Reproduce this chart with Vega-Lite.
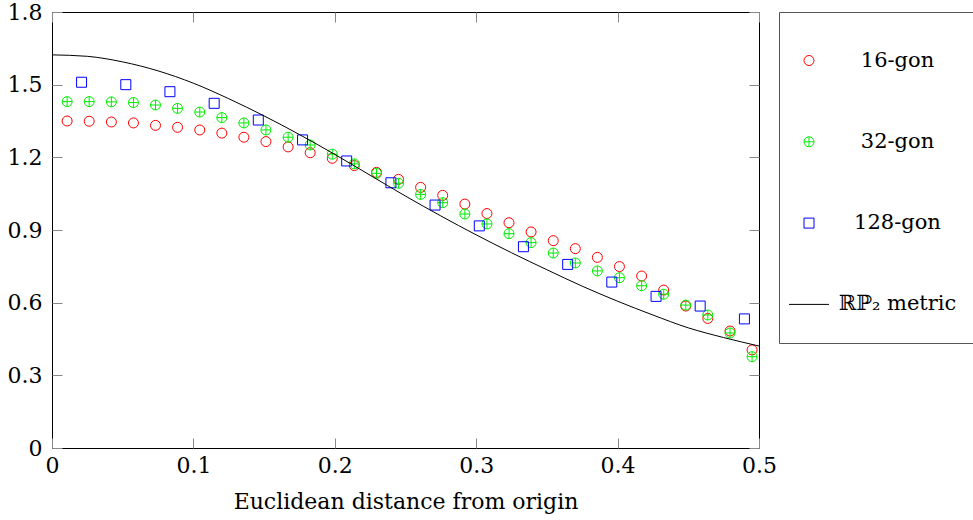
{
  "$schema": "https://vega.github.io/schema/vega-lite/v6.json",
  "width": 707,
  "height": 436,
  "autosize": "none",
  "padding": {"left": 52, "top": 12, "right": 214, "bottom": 72},
  "background": "white",
  "config": {"view": {"stroke": "black", "strokeWidth": 1}, "font": "DejaVu Serif"},
  "datasets": {
    "pts": [
      {"series": "16-gon", "x": 0.0107, "y": 1.350},
      {"series": "16-gon", "x": 0.0263, "y": 1.349},
      {"series": "16-gon", "x": 0.0420, "y": 1.346},
      {"series": "16-gon", "x": 0.0576, "y": 1.342},
      {"series": "16-gon", "x": 0.0732, "y": 1.332},
      {"series": "16-gon", "x": 0.0888, "y": 1.324},
      {"series": "16-gon", "x": 0.1045, "y": 1.313},
      {"series": "16-gon", "x": 0.1201, "y": 1.300},
      {"series": "16-gon", "x": 0.1357, "y": 1.283},
      {"series": "16-gon", "x": 0.1513, "y": 1.265},
      {"series": "16-gon", "x": 0.1670, "y": 1.243},
      {"series": "16-gon", "x": 0.1826, "y": 1.219},
      {"series": "16-gon", "x": 0.1982, "y": 1.196},
      {"series": "16-gon", "x": 0.2138, "y": 1.166},
      {"series": "16-gon", "x": 0.2295, "y": 1.138},
      {"series": "16-gon", "x": 0.2451, "y": 1.109},
      {"series": "16-gon", "x": 0.2607, "y": 1.076},
      {"series": "16-gon", "x": 0.2763, "y": 1.043},
      {"series": "16-gon", "x": 0.2920, "y": 1.007},
      {"series": "16-gon", "x": 0.3076, "y": 0.968},
      {"series": "16-gon", "x": 0.3232, "y": 0.930},
      {"series": "16-gon", "x": 0.3388, "y": 0.892},
      {"series": "16-gon", "x": 0.3545, "y": 0.856},
      {"series": "16-gon", "x": 0.3701, "y": 0.823},
      {"series": "16-gon", "x": 0.3857, "y": 0.787},
      {"series": "16-gon", "x": 0.4013, "y": 0.749},
      {"series": "16-gon", "x": 0.4170, "y": 0.710},
      {"series": "16-gon", "x": 0.4326, "y": 0.652},
      {"series": "16-gon", "x": 0.4482, "y": 0.586},
      {"series": "16-gon", "x": 0.4638, "y": 0.535},
      {"series": "16-gon", "x": 0.4795, "y": 0.483},
      {"series": "16-gon", "x": 0.4951, "y": 0.405},
      {"series": "32-gon", "x": 0.0107, "y": 1.430},
      {"series": "32-gon", "x": 0.0263, "y": 1.430},
      {"series": "32-gon", "x": 0.0420, "y": 1.429},
      {"series": "32-gon", "x": 0.0576, "y": 1.426},
      {"series": "32-gon", "x": 0.0732, "y": 1.416},
      {"series": "32-gon", "x": 0.0888, "y": 1.402},
      {"series": "32-gon", "x": 0.1045, "y": 1.387},
      {"series": "32-gon", "x": 0.1201, "y": 1.364},
      {"series": "32-gon", "x": 0.1357, "y": 1.342},
      {"series": "32-gon", "x": 0.1513, "y": 1.313},
      {"series": "32-gon", "x": 0.1670, "y": 1.283},
      {"series": "32-gon", "x": 0.1826, "y": 1.251},
      {"series": "32-gon", "x": 0.1982, "y": 1.213},
      {"series": "32-gon", "x": 0.2138, "y": 1.173},
      {"series": "32-gon", "x": 0.2295, "y": 1.134},
      {"series": "32-gon", "x": 0.2451, "y": 1.093},
      {"series": "32-gon", "x": 0.2607, "y": 1.047},
      {"series": "32-gon", "x": 0.2763, "y": 1.013},
      {"series": "32-gon", "x": 0.2920, "y": 0.966},
      {"series": "32-gon", "x": 0.3076, "y": 0.925},
      {"series": "32-gon", "x": 0.3232, "y": 0.885},
      {"series": "32-gon", "x": 0.3388, "y": 0.848},
      {"series": "32-gon", "x": 0.3545, "y": 0.805},
      {"series": "32-gon", "x": 0.3701, "y": 0.764},
      {"series": "32-gon", "x": 0.3857, "y": 0.731},
      {"series": "32-gon", "x": 0.4013, "y": 0.703},
      {"series": "32-gon", "x": 0.4170, "y": 0.670},
      {"series": "32-gon", "x": 0.4326, "y": 0.635},
      {"series": "32-gon", "x": 0.4482, "y": 0.590},
      {"series": "32-gon", "x": 0.4638, "y": 0.549},
      {"series": "32-gon", "x": 0.4795, "y": 0.475},
      {"series": "32-gon", "x": 0.4951, "y": 0.377},
      {"series": "128-gon", "x": 0.0209, "y": 1.510},
      {"series": "128-gon", "x": 0.0522, "y": 1.500},
      {"series": "128-gon", "x": 0.0834, "y": 1.471},
      {"series": "128-gon", "x": 0.1147, "y": 1.423},
      {"series": "128-gon", "x": 0.1459, "y": 1.354},
      {"series": "128-gon", "x": 0.1772, "y": 1.272},
      {"series": "128-gon", "x": 0.2084, "y": 1.185},
      {"series": "128-gon", "x": 0.2397, "y": 1.095},
      {"series": "128-gon", "x": 0.2709, "y": 1.003},
      {"series": "128-gon", "x": 0.3022, "y": 0.917},
      {"series": "128-gon", "x": 0.3334, "y": 0.831},
      {"series": "128-gon", "x": 0.3647, "y": 0.758},
      {"series": "128-gon", "x": 0.3959, "y": 0.685},
      {"series": "128-gon", "x": 0.4272, "y": 0.626},
      {"series": "128-gon", "x": 0.4584, "y": 0.586},
      {"series": "128-gon", "x": 0.4897, "y": 0.533}
    ],
    "curve": [
      {"series": "ℝℙ₂ metric", "x": 0.0, "y": 1.623},
      {"series": "ℝℙ₂ metric", "x": 0.025, "y": 1.617},
      {"series": "ℝℙ₂ metric", "x": 0.05, "y": 1.594},
      {"series": "ℝℙ₂ metric", "x": 0.075, "y": 1.557},
      {"series": "ℝℙ₂ metric", "x": 0.1, "y": 1.506},
      {"series": "ℝℙ₂ metric", "x": 0.125, "y": 1.442},
      {"series": "ℝℙ₂ metric", "x": 0.15, "y": 1.371},
      {"series": "ℝℙ₂ metric", "x": 0.175, "y": 1.294},
      {"series": "ℝℙ₂ metric", "x": 0.2, "y": 1.212},
      {"series": "ℝℙ₂ metric", "x": 0.225, "y": 1.126},
      {"series": "ℝℙ₂ metric", "x": 0.25, "y": 1.040},
      {"series": "ℝℙ₂ metric", "x": 0.275, "y": 0.958},
      {"series": "ℝℙ₂ metric", "x": 0.3, "y": 0.880},
      {"series": "ℝℙ₂ metric", "x": 0.325, "y": 0.806},
      {"series": "ℝℙ₂ metric", "x": 0.35, "y": 0.736},
      {"series": "ℝℙ₂ metric", "x": 0.375, "y": 0.668},
      {"series": "ℝℙ₂ metric", "x": 0.4, "y": 0.606},
      {"series": "ℝℙ₂ metric", "x": 0.425, "y": 0.549},
      {"series": "ℝℙ₂ metric", "x": 0.45, "y": 0.496},
      {"series": "ℝℙ₂ metric", "x": 0.475, "y": 0.456},
      {"series": "ℝℙ₂ metric", "x": 0.5, "y": 0.421}
    ]
  },
  "layer": [
    {
      "data": {"name": "pts"},
      "mark": {"type": "point", "filled": false, "strokeWidth": 1, "opacity": 1, "size": 1600},
      "encoding": {
        "x": {
          "field": "x", "type": "quantitative",
          "scale": {"domain": [0, 0.5], "nice": false, "zero": false},
          "axis": {
            "orient": "bottom", "values": [0, 0.1, 0.2, 0.3, 0.4, 0.5],
            "labelExpr": "datum.value == 0 ? '0' : format(datum.value, '.1f')",
            "tickSize": -10, "tickColor": "#888", "tickWidth": 1, "domain": false, "grid": false,
            "labelPadding": 17, "labelFontSize": 22, "labelColor": "black", "labelFont": "DejaVu Serif",
            "labelFlush": false, "labelOverlap": false,
            "title": "Euclidean distance from origin", "titleFontSize": 22, "titleFontWeight": "normal",
            "titleColor": "black", "titleFont": "DejaVu Serif", "titlePadding": 15
          }
        },
        "y": {
          "field": "y", "type": "quantitative",
          "scale": {"domain": [0, 1.8], "nice": false, "zero": false},
          "axis": {
            "orient": "left", "values": [0, 0.3, 0.6, 0.9, 1.2, 1.5, 1.8],
            "labelExpr": "datum.value == 0 ? '0' : format(datum.value, '.1f')",
            "tickSize": -10, "tickColor": "#888", "tickWidth": 1, "domain": false, "grid": false,
            "labelPadding": 20, "labelFontSize": 22, "labelColor": "black", "labelFont": "DejaVu Serif",
            "labelFlush": false, "labelOverlap": false, "title": null
          }
        },
        "color": {
          "field": "series", "type": "nominal",
          "scale": {"domain": ["16-gon", "32-gon", "128-gon", "ℝℙ₂ metric"], "range": ["#ff0000", "#00ee00", "#0000ff", "#000000"]},
          "legend": {
            "title": null, "orient": "none", "legendX": 727, "legendY": 0,
            "padding": 28, "symbolOffset": -18.5, "labelOffset": 68, "labelAlign": "center",
            "labelFontSize": 21, "labelFont": "DejaVu Serif", "labelColor": "black", "labelLimit": 300,
            "rowPadding": 50.3, "strokeColor": "#555", "fillColor": "white", "symbolStrokeWidth": 1, "symbolSize": 1600,
            "symbolFillColor": "transparent"
          }
        },
        "shape": {
          "field": "series", "type": "nominal",
          "scale": {"domain": ["16-gon", "32-gon", "128-gon", "ℝℙ₂ metric"], "range": [
            "M-0.25,0A0.25,0.25,0,1,1,0.25,0A0.25,0.25,0,1,1,-0.25,0Z",
            "M-0.25,0A0.25,0.25,0,1,1,0.25,0A0.25,0.25,0,1,1,-0.25,0ZM-0.25,0L0.25,0M0,-0.25L0,0.25",
            "M-0.25,-0.25L0.25,-0.25L0.25,0.25L-0.25,0.25Z",
            "stroke"]},
          "legend": {
            "title": null, "orient": "none", "legendX": 727, "legendY": 0,
            "padding": 28, "symbolOffset": -18.5, "labelOffset": 68, "labelAlign": "center",
            "labelFontSize": 21, "labelFont": "DejaVu Serif", "labelColor": "black", "labelLimit": 300,
            "rowPadding": 50.3, "strokeColor": "#555", "fillColor": "white", "symbolStrokeWidth": 1, "symbolSize": 1600,
            "symbolFillColor": "transparent"
          }
        }
      }
    },
    {
      "data": {"name": "curve"},
      "mark": {"type": "line", "strokeWidth": 1, "interpolate": "monotone", "color": "black"},
      "encoding": {
        "x": {
          "field": "x", "type": "quantitative",
          "axis": {
            "orient": "top", "values": [0, 0.1, 0.2, 0.3, 0.4, 0.5], "labels": false,
            "tickSize": -10, "tickColor": "#888", "tickWidth": 1, "domain": false, "grid": false, "title": null
          }
        },
        "y": {
          "field": "y", "type": "quantitative",
          "axis": {
            "orient": "right", "values": [0, 0.3, 0.6, 0.9, 1.2, 1.5, 1.8], "labels": false,
            "tickSize": -10, "tickColor": "#888", "tickWidth": 1, "domain": false, "grid": false, "title": null
          }
        }
      }
    }
  ],
  "resolve": {"axis": {"x": "independent", "y": "independent"}}
}
